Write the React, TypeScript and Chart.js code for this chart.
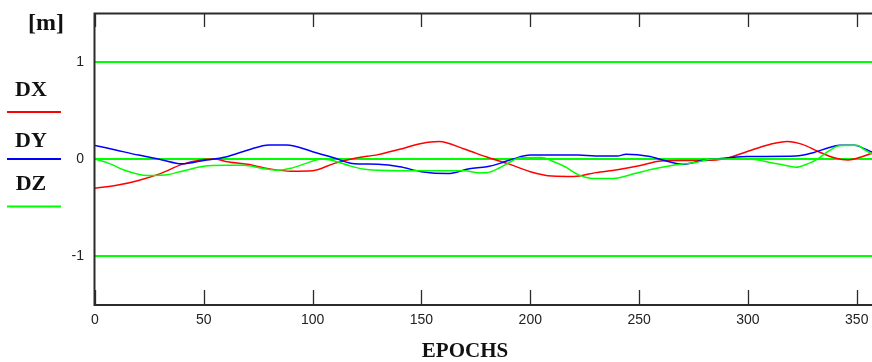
import React, { useEffect, useRef } from 'react';
import { Chart, registerables } from 'chart.js';

Chart.register(...registerables);

const xTickValues = [0, 50, 100, 150, 200, 250, 300, 350];
const yTickValues = [-1, 0, 1];
const xMin = 0;
const xMax = 357;
const yMin = -1.5;
const yMax = 1.5;

const dxEpochs = [0, 10, 20, 30, 40, 50, 55, 60, 70, 80, 90, 100, 110, 120, 130, 140, 150, 158, 170, 180, 190, 200, 210, 220, 230, 240, 250, 260, 270, 280, 290, 300, 310, 318, 325, 332, 340, 346, 352, 357];
const dxValues = [-0.30, -0.27, -0.22, -0.15, -0.055, -0.005, 0.0, -0.025, -0.055, -0.10, -0.125, -0.12, -0.045, 0.01, 0.045, 0.10, 0.16, 0.18, 0.10, 0.02, -0.05, -0.13, -0.175, -0.18, -0.14, -0.11, -0.07, -0.02, -0.015, -0.015, 0.005, 0.08, 0.15, 0.18, 0.15, 0.08, 0.01, -0.01, 0.02, 0.06];

const dyEpochs = [0, 10, 20, 30, 40, 50, 60, 70, 80, 88, 100, 110, 118, 130, 140, 150, 162, 172, 180, 186, 192, 200, 222, 230, 240, 244, 255, 260, 270, 280, 290, 300, 322, 330, 337, 342, 349, 354, 357];
const dyValues = [0.14, 0.09, 0.04, -0.005, -0.05, -0.015, 0.02, 0.09, 0.145, 0.145, 0.075, 0.01, -0.045, -0.055, -0.08, -0.13, -0.15, -0.10, -0.08, -0.045, 0.0, 0.04, 0.04, 0.03, 0.03, 0.05, 0.025, -0.005, -0.055, -0.01, 0.01, 0.025, 0.03, 0.065, 0.115, 0.14, 0.14, 0.10, 0.07];

const dzEpochs = [0, 7, 13, 24, 32, 40, 50, 60, 68, 78, 84, 90, 97, 104, 110, 117, 124, 140, 170, 176, 180, 186, 190, 195, 205, 210, 216, 222, 229, 238, 248, 257, 267, 276, 284, 295, 303, 310, 316, 322, 328, 332, 337, 342, 350, 354, 357];
const dzValues = [0.0, -0.05, -0.11, -0.17, -0.165, -0.125, -0.075, -0.065, -0.065, -0.10, -0.115, -0.095, -0.045, 0.0, -0.02, -0.07, -0.105, -0.12, -0.12, -0.14, -0.14, -0.09, -0.04, 0.01, 0.015, -0.02, -0.08, -0.16, -0.20, -0.20, -0.15, -0.10, -0.06, -0.035, 0.0, 0.0, -0.005, -0.035, -0.06, -0.085, -0.045, 0.0, 0.08, 0.135, 0.14, 0.09, 0.05];

const seriesNames = ['DX', 'DY', 'DZ'];
const seriesColors = ['#ff0000', '#0000ff', '#00ff00'];
const unitLabel = '[m]';
const xTitle = 'EPOCHS';

const toPoints = (xs: number[], ys: number[]) => xs.map((x, i) => ({ x, y: ys[i] }));

const zeroPadding = (s: any) => {
  s.paddingTop = 0;
  s.paddingBottom = 0;
  s.paddingLeft = 0;
  s.paddingRight = 0;
};

const framePlugin = {
  id: 'frame',
  afterDatasetsDraw(chart: any) {
    const { ctx, chartArea: a, scales } = chart;
    ctx.save();
    ctx.strokeStyle = '#2b2b2b';
    ctx.lineWidth = 2;
    ctx.beginPath();
    ctx.moveTo(a.right + 10, a.top + 0.5);
    ctx.lineTo(a.left - 0.5, a.top + 0.5);
    ctx.lineTo(a.left - 0.5, a.bottom);
    ctx.lineTo(a.right + 10, a.bottom);
    ctx.stroke();
    ctx.lineWidth = 1.3;
    ctx.beginPath();
    for (const v of xTickValues) {
      const x = Math.round(scales.x.getPixelForValue(v)) + 0.5;
      ctx.moveTo(x, a.bottom);
      ctx.lineTo(x, a.bottom - 15);
      ctx.moveTo(x, a.top);
      ctx.lineTo(x, a.top + 14);
    }
    ctx.stroke();
    ctx.restore();
  },
  afterDraw(chart: any) {
    const { ctx } = chart;
    ctx.save();
    ctx.fillStyle = '#111';
    ctx.textAlign = 'center';
    ctx.textBaseline = 'middle';
    ctx.font = 'bold 24px "Liberation Serif", "Times New Roman", serif';
    ctx.fillText(unitLabel, 46, 24);
    ctx.font = 'bold 22px "Liberation Serif", "Times New Roman", serif';
    const textY = [90, 141, 184];
    const lineY = [112, 159, 206.5];
    seriesNames.forEach((n, i) => {
      ctx.fillStyle = '#111';
      ctx.fillText(n, 31, textY[i]);
      ctx.strokeStyle = seriesColors[i];
      ctx.lineWidth = 2;
      ctx.beginPath();
      ctx.moveTo(7, lineY[i]);
      ctx.lineTo(61, lineY[i]);
      ctx.stroke();
    });
    ctx.fillStyle = '#111';
    ctx.font = 'bold 21px "Liberation Serif", "Times New Roman", serif';
    ctx.fillText(xTitle, 465, 352);
    ctx.restore();
  },
};

export default function App() {
  const canvasRef = useRef<HTMLCanvasElement | null>(null);

  useEffect(() => {
    if (!canvasRef.current) return;
    const tickFont = { family: '"Liberation Sans", Arial, sans-serif', size: 14 };
    const common = { fill: false, pointRadius: 0, borderWidth: 1.5, cubicInterpolationMode: 'monotone' as const };
    const chart = new Chart(canvasRef.current, {
      type: 'line',
      data: {
        datasets: [
          { label: seriesNames[2], data: toPoints(dzEpochs, dzValues), borderColor: seriesColors[2], ...common },
          { label: seriesNames[1], data: toPoints(dyEpochs, dyValues), borderColor: seriesColors[1], ...common },
          { label: seriesNames[0], data: toPoints(dxEpochs, dxValues), borderColor: seriesColors[0], ...common },
        ],
      },
      options: {
        animation: false,
        responsive: false,
        devicePixelRatio: 1,
        layout: { padding: { left: 0, top: 13, right: 0, bottom: 0 } },
        plugins: { legend: { display: false }, tooltip: { enabled: false }, title: { display: false } },
        scales: {
          x: {
            type: 'linear',
            min: xMin,
            max: xMax,
            afterBuildTicks: (s: any) => { s.ticks = xTickValues.map((v) => ({ value: v })); },
            afterFit: (s: any) => { s.height = 57; zeroPadding(s); },
            grid: { display: false, drawTicks: false },
            border: { display: false },
            ticks: { color: '#222', font: tickFont, padding: 7, maxRotation: 0, autoSkip: false },
          },
          y: {
            type: 'linear',
            min: yMin,
            max: yMax,
            afterBuildTicks: (s: any) => { s.ticks = yTickValues.map((v) => ({ value: v })); },
            afterFit: (s: any) => { s.width = 95; zeroPadding(s); },
            grid: { color: '#00ff00', lineWidth: 2, drawTicks: false },
            border: { display: false },
            ticks: { color: '#222', font: tickFont, padding: 11, autoSkip: false },
          },
        },
      },
      plugins: [framePlugin],
    });
    return () => chart.destroy();
  }, []);

  return (
    <div style={{ position: 'absolute', left: 0, top: 0, width: 872, height: 362, background: '#fff' }}>
      <canvas ref={canvasRef} width={872} height={362} style={{ width: 872, height: 362, display: 'block' }} />
    </div>
  );
}
